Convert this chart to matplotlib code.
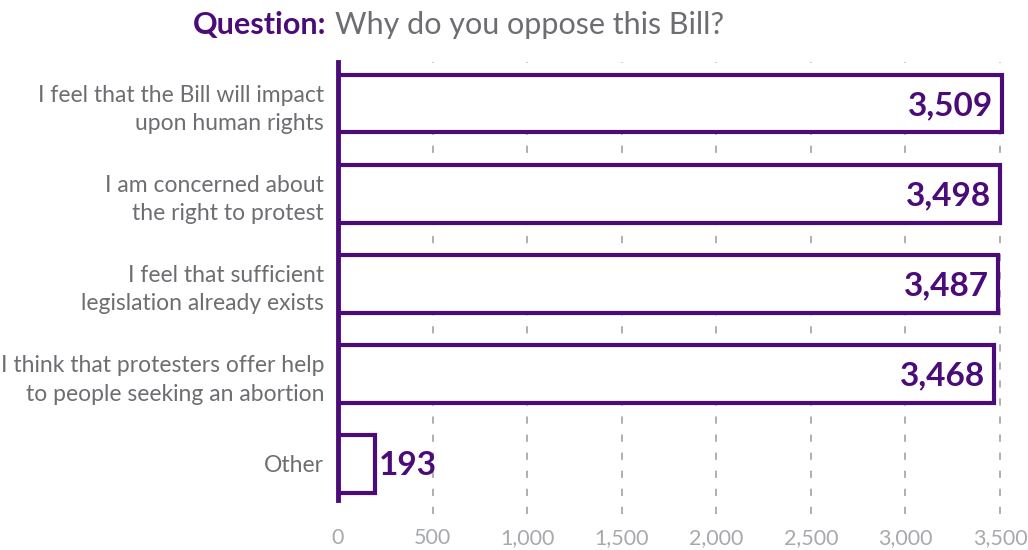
import matplotlib.pyplot as plt

categories = ['I feel that the Bill will impact\nupon human rights',
              'I am concerned about\nthe right to protest',
              'I feel that sufficient\nlegislation already exists',
              'I think that protesters offer help\nto people seeking an abortion',
              'Other']
counts = [3509, 3498, 3487, 3468, 193]
xticks = [0, 500, 1000, 1500, 2000, 2500, 3000, 3500]

purple = '#4b0c7a'
grey = '#6d6e71'
light = '#a7a9ac'

plt.rcParams['font.family'] = ['Lato', 'DejaVu Sans']

fig = plt.figure(figsize=(10.28, 5.5), dpi=100)
ax = fig.add_axes([0.3288, 0.0909, 0.6495, 0.7961])

ypos = list(range(len(categories)))
ax.barh(ypos, counts, height=0.64, color='white', edgecolor=purple, linewidth=3, zorder=3)

for y, v in zip(ypos, counts):
    label = f'{v:,}'
    if v > 1000:
        ax.text(v - 45, y + 0.02, label, ha='right', va='center', color=purple,
                fontsize=24, fontweight='bold', zorder=4)
    else:
        ax.text(v + 25, y + 0.02, label, ha='left', va='center', color=purple,
                fontsize=24, fontweight='bold', zorder=4)

ax.set_xlim(0, 3530)
ax.set_ylim(4.4, -0.46)
ax.set_yticks(ypos)
ax.set_yticklabels(categories, color=grey, fontsize=16.5, linespacing=1.45)
ax.set_xticks(xticks)
ax.set_xticklabels([f'{t:,}' for t in xticks], color=light, fontsize=15.5)
ax.tick_params(axis='y', length=0, pad=10)
ax.tick_params(axis='x', length=0, pad=20)

for s in ['top', 'right', 'bottom']:
    ax.spines[s].set_visible(False)
ax.spines['left'].set_color(purple)
ax.spines['left'].set_linewidth(3.5)
ax.spines['left'].set_zorder(5)

for t in xticks[1:]:
    ax.plot([t, t], [4.55, -0.46], color=light, linestyle=(0, (4, 6)),
            linewidth=1.3, zorder=1, clip_on=False)

t1 = fig.text(0.188, 0.955, 'Question:', color=purple, fontsize=22, fontweight='bold',
              ha='left', va='center')
fig.canvas.draw()
bb = t1.get_window_extent()
fig.text((bb.x1 + 8) / fig.bbox.width, 0.955, 'Why do you oppose this Bill?', color=grey,
         fontsize=22, ha='left', va='center')

fig.savefig('out.png', dpi=100)
